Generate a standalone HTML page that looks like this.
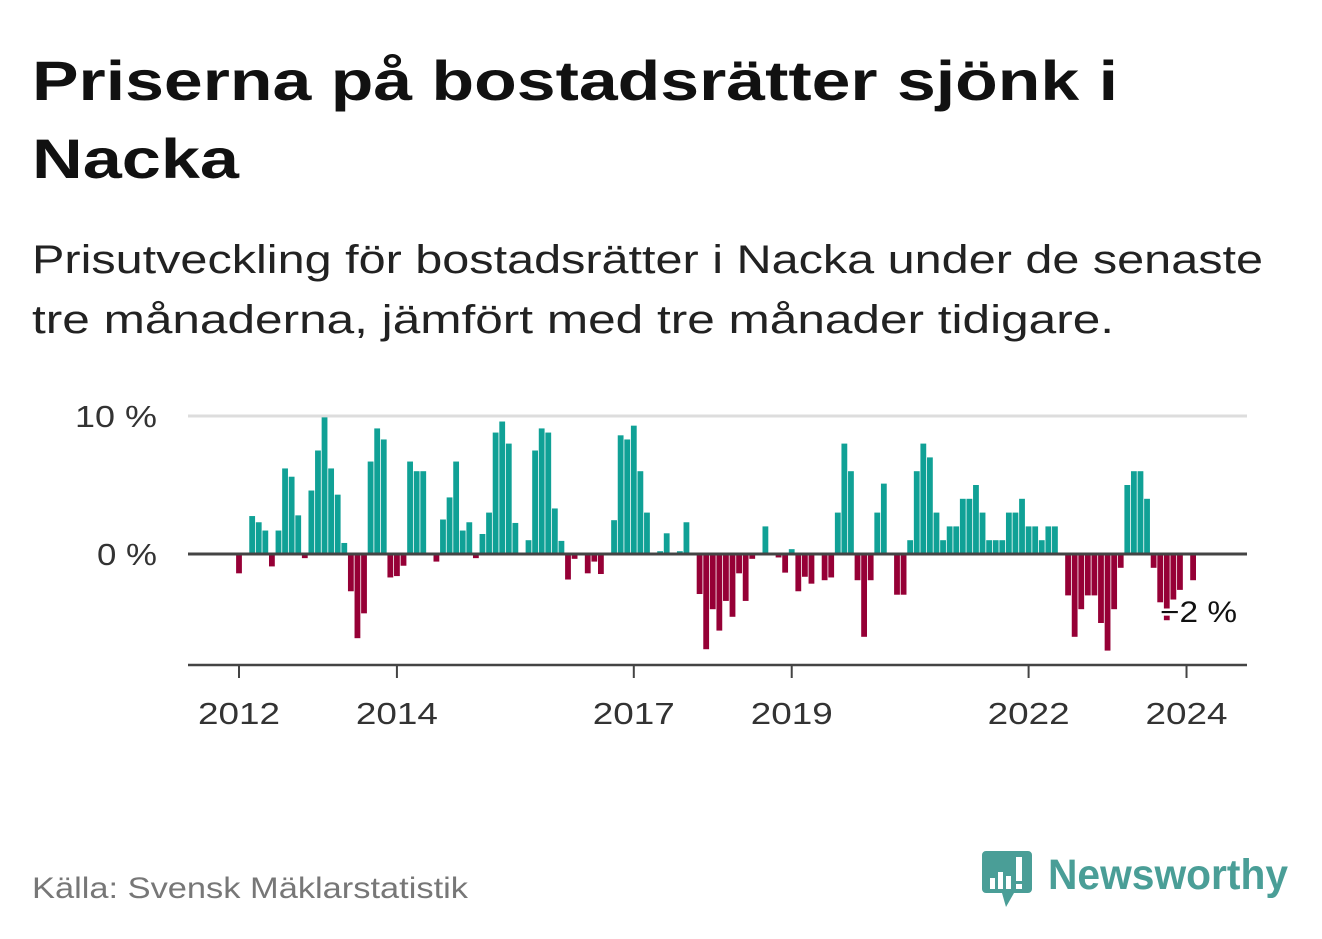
<!DOCTYPE html>
<html><head><meta charset="utf-8"><style>
html,body{margin:0;padding:0;background:#fff;}
svg{display:block;font-family:"Liberation Sans",sans-serif;}
</style></head><body>
<svg width="1322" height="939" viewBox="0 0 1322 939">
<text x="32" y="100" font-size="56" font-weight="bold" fill="#111" textLength="1086" lengthAdjust="spacingAndGlyphs">Priserna på bostadsrätter sjönk i</text>
<text x="32" y="178" font-size="56" font-weight="bold" fill="#111" textLength="207" lengthAdjust="spacingAndGlyphs">Nacka</text>
<text x="32" y="273" font-size="40" fill="#222" textLength="1231" lengthAdjust="spacingAndGlyphs">Prisutveckling för bostadsrätter i Nacka under de senaste</text>
<text x="32" y="333" font-size="40" fill="#222" textLength="1082" lengthAdjust="spacingAndGlyphs">tre månaderna, jämfört med tre månader tidigare.</text>
<g id="plot"></g>
<text x="32" y="898" font-size="30" fill="#777" textLength="436" lengthAdjust="spacingAndGlyphs">Källa: Svensk Mäklarstatistik</text>
<g>
<path d="M986 851 h42 a4 4 0 0 1 4 4 v34 a4 4 0 0 1 -4 4 h-14 l-8 14 l-4 -14 h-16 a4 4 0 0 1 -4 -4 v-34 a4 4 0 0 1 4 -4z" fill="#4a9e97"/>
<rect x="990" y="878" width="5" height="11" fill="#fff"/><rect x="998" y="872" width="5" height="17" fill="#fff"/><rect x="1006" y="876" width="5" height="13" fill="#fff"/><rect x="1016" y="857" width="6" height="24" fill="#fff"/><rect x="1016" y="884" width="6" height="5" fill="#fff"/>
<text x="1048" y="889" font-size="43" font-weight="bold" fill="#4a9e97" textLength="240" lengthAdjust="spacingAndGlyphs">Newsworthy</text>
</g>
</svg>
<script>
const values = [-1.4,0.1,2.75,2.3,1.7,-0.9,1.7,6.2,5.6,2.8,-0.3,4.6,7.5,9.9,6.2,4.3,0.8,-2.7,-6.1,-4.3,6.7,9.1,8.3,-1.7,
-1.6,-0.85,6.7,6.0,6.0,0,-0.55,2.5,4.1,6.7,1.7,2.3,-0.3,1.45,3.0,8.8,9.6,8.0,2.25,0,1.0,7.5,9.1,8.8,
3.3,0.95,-1.85,-0.35,0,-1.4,-0.55,-1.45,0,2.45,8.6,8.3,9.3,6.0,3.0,0,0.2,1.5,0,0.2,2.3,0,-2.9,-6.9,
-4.0,-5.55,-3.4,-4.55,-1.4,-3.4,-0.35,0,2.0,0,-0.25,-1.35,0.35,-2.7,-1.65,-2.15,0,-1.9,-1.7,3.0,8.0,6.0,-1.9,-6.0,
-1.9,3.0,5.1,0,-2.95,-2.95,1.0,6.0,8.0,7.0,3.0,1.0,2.0,2.0,4.0,4.0,5.0,3.0,1.0,1.0,1.0,3.0,3.0,4.0,
2.0,2.0,1.0,2.0,2.0,0,-3.0,-6.0,-4.0,-3.0,-3.0,-5.0,-7.0,-4.0,-1.0,5.0,6.0,6.0,4.0,-1.0,-3.5,-4.8,-3.3,-2.6,0,-1.9];
const yTicks = [0,10];
const yTickLabels = ["0 %","10 %"];
const xTickYears = [2012,2014,2017,2019,2022,2024];
const startYear = 2012;
const lastLabel = "−2 %";

const NS="http://www.w3.org/2000/svg";
const g=document.getElementById('plot');
const X0=188,X1=1247,zeroY=554,pxPerUnit=13.8,firstX=239,step=6.58;
const y=v=>zeroY-v*pxPerUnit;
const xm=i=>firstX+i*step;
const xYear=yr=>firstX+(yr-startYear)*12*step;
function mk(t,a){const e=document.createElementNS(NS,t);for(const k in a)e.setAttribute(k,a[k]);g.appendChild(e);return e;}
yTicks.forEach((t,i)=>{
  if(t!==0){const l=mk('line',{x1:X0,x2:X1,y1:y(t),y2:y(t),stroke:'#dddddd','stroke-width':3});
  
  }
  const lbl=yTickLabels[i];
  const tx=mk('text',{x:157,y:y(t)+11,'font-size':31,fill:'#333','text-anchor':'end',textLength:lbl.length>3?82:60,lengthAdjust:'spacingAndGlyphs'});
  tx.textContent=lbl;
  
  
});
values.forEach((v,i)=>{
  if(v===0)return;
  const top=v>0?y(v):zeroY, h=Math.abs(v)*pxPerUnit;
  const r=mk('rect',{x:xm(i)-2.9,y:top,width:5.8,height:h,fill:v>0?'#10a196':'#960036'});
  
  
});
const zl=mk('line',{x1:X0,x2:X1,y1:zeroY,y2:zeroY,stroke:'#444','stroke-width':3});


const ax=mk('line',{x1:X0,x2:X1,y1:665,y2:665,stroke:'#444','stroke-width':2.5});


xTickYears.forEach(yr=>{
  const tk=mk('line',{x1:xYear(yr),x2:xYear(yr),y1:665,y2:678,stroke:'#444','stroke-width':2});
  
  
  const t=mk('text',{x:xYear(yr)-41,y:724,'font-size':31,fill:'#333',textLength:82,lengthAdjust:'spacingAndGlyphs'});
  t.textContent=yr;
  
  
});
const lab=mk('text',{x:1160,y:622,'font-size':30,fill:'#111',stroke:'#fff','stroke-width':5,'paint-order':'stroke',textLength:77,lengthAdjust:'spacingAndGlyphs'});
lab.textContent=lastLabel;


</script>
</body></html>
